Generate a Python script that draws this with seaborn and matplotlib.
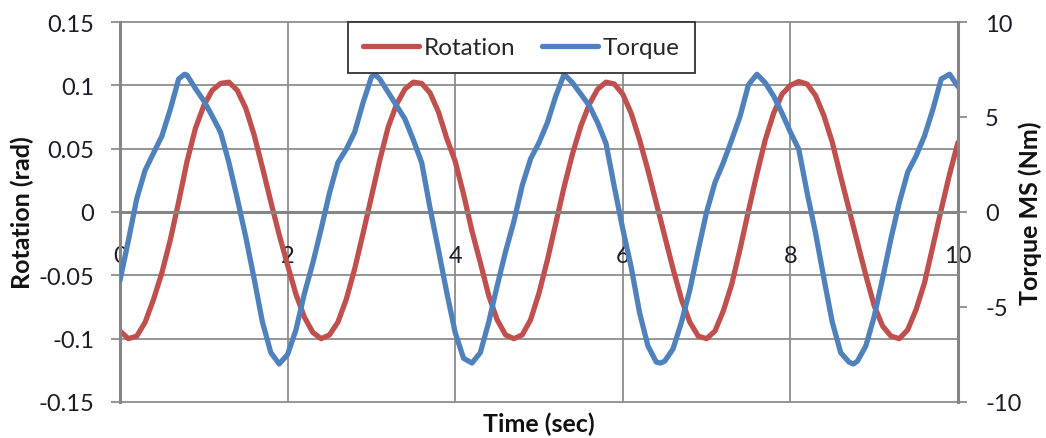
import numpy as np
import pandas as pd
import matplotlib
matplotlib.use("Agg")
import matplotlib.pyplot as plt
import seaborn as sns

# Measured response: shaft rotation (rad) and torque (Nm) over 10 s
rotation_time = [round(0.1 * i, 1) for i in range(101)]
rotation_rad = [
    -0.094, -0.100, -0.098, -0.087, -0.069, -0.048, -0.022, 0.008, 0.040, 0.066,
    0.084, 0.096, 0.1015, 0.1025, 0.096, 0.082, 0.061, 0.035, 0.008, -0.018,
    -0.042, -0.065, -0.083, -0.095, -0.100, -0.097, -0.087, -0.069, -0.045, -0.017,
    0.012, 0.041, 0.067, 0.085, 0.097, 0.1025, 0.1015, 0.094, 0.079, 0.058,
    0.040, 0.014, -0.015, -0.040, -0.066, -0.085, -0.097, -0.100, -0.097, -0.085,
    -0.064, -0.038, -0.009, 0.020, 0.046, 0.068, 0.085, 0.097, 0.1025, 0.101,
    0.093, 0.078, 0.057, 0.033, 0.007, -0.019, -0.045, -0.069, -0.087, -0.098,
    -0.100, -0.094, -0.078, -0.057, -0.029, 0.001, 0.030, 0.057, 0.078, 0.093,
    0.100, 0.103, 0.101, 0.092, 0.076, 0.055, 0.028, 0.002, -0.024, -0.050,
    -0.074, -0.090, -0.098, -0.100, -0.093, -0.077, -0.056, -0.027, 0.002, 0.030,
    0.055,
]

torque_time = [
    0.0, 0.1, 0.2, 0.3, 0.4, 0.5, 0.6, 0.7, 0.77, 0.8, 0.9,
    1.0, 1.1, 1.2, 1.3, 1.4, 1.5, 1.6, 1.7, 1.8, 1.9,
    2.0, 2.1, 2.2, 2.3, 2.4, 2.5, 2.6, 2.7, 2.8, 2.9,
    3.0, 3.04, 3.1, 3.2, 3.3, 3.4, 3.5, 3.6, 3.7, 3.8, 3.9,
    4.0, 4.1, 4.2, 4.3, 4.4, 4.5, 4.6, 4.7, 4.8, 4.9,
    5.0, 5.1, 5.2, 5.3, 5.4, 5.5, 5.6, 5.7, 5.8, 5.9,
    6.0, 6.1, 6.2, 6.3, 6.4, 6.45, 6.5, 6.6, 6.7, 6.8, 6.9,
    7.0, 7.1, 7.2, 7.3, 7.4, 7.5, 7.6, 7.7, 7.8, 7.9,
    8.0, 8.1, 8.2, 8.3, 8.4, 8.5, 8.6, 8.7, 8.75, 8.8, 8.9,
    9.0, 9.1, 9.2, 9.3, 9.4, 9.5, 9.6, 9.7, 9.8, 9.9, 10.0,
]
torque_nm = [
    -3.6, -1.5, 0.7, 2.2, 3.1, 4.0, 5.4, 7.0, 7.25, 7.2, 6.5,
    5.85, 5.05, 4.2, 2.6, 0.7, -1.3, -3.5, -5.8, -7.4, -8.0,
    -7.5, -6.2, -4.3, -2.7, -0.9, 1.0, 2.6, 3.3, 4.2, 5.75,
    7.1, 7.25, 7.0, 6.3, 5.6, 4.9, 3.8, 2.6, 0.2, -2.0, -4.25,
    -6.35, -7.7, -7.95, -7.4, -5.8, -3.9, -2.1, -0.5, 1.4, 2.8,
    3.65, 4.7, 6.1, 7.25, 6.8, 6.2, 5.6, 4.7, 3.6, 1.3,
    -0.9, -2.9, -5.3, -7.05, -7.9, -7.95, -7.85, -7.2, -5.8, -4.1, -2.0,
    0.0, 1.55, 2.6, 3.8, 5.05, 6.7, 7.25, 6.8, 6.1, 5.2,
    4.2, 3.3, 1.0, -1.1, -3.5, -5.8, -7.4, -7.9, -8.0, -7.85, -7.05,
    -5.5, -3.5, -1.4, 0.5, 2.1, 2.95, 4.0, 5.4, 7.0, 7.25, 6.6,
]

x_ticks = [0, 2, 4, 6, 8, 10]
x_tick_labels = ["0", "2", "4", "6", "8", "10"]
rot_ticks = [-0.15, -0.1, -0.05, 0, 0.05, 0.1, 0.15]
rot_tick_labels = ["-0.15", "-0.1", "-0.05", "0", "0.05", "0.1", "0.15"]
torque_ticks = [-10, -5, 0, 5, 10]
torque_tick_labels = ["-10", "-5", "0", "5", "10"]

RED = "#C0504D"
BLUE = "#4F81BD"
GRID = "#8C8C8C"
AXIS = "#858585"
TEXT = "#1c1c28"

sns.set_style("white")
plt.rcParams["font.family"] = ["Lato", "DejaVu Sans"]
plt.rcParams["font.size"] = 17

rot_df = pd.DataFrame({"t": rotation_time, "rot": rotation_rad})
tq_df = pd.DataFrame({"t": torque_time, "tq": torque_nm})

fig = plt.figure(figsize=(10.46, 4.39), dpi=100)
ax = fig.add_axes([120 / 1046, 1 - 403 / 439, 838 / 1046, 380 / 439])
ax2 = ax.twinx()

sns.lineplot(data=rot_df, x="t", y="rot", ax=ax, color=RED, lw=3.8,
             label="Rotation", sort=True)
sns.lineplot(data=tq_df, x="t", y="tq", ax=ax2, color=BLUE, lw=3.8,
             label="Torque", sort=True)
for a in (ax, ax2):
    if a.get_legend() is not None:
        a.get_legend().remove()
    for ln in a.get_lines():
        ln.set_solid_joinstyle("round")
        ln.set_solid_capstyle("round")

ax.set_xlim(0, 10)
ax.set_ylim(-0.15, 0.15)
ax2.set_ylim(-10, 10)

ax.set_xticks(x_ticks)
ax.set_xticklabels(x_tick_labels)
ax.set_yticks(rot_ticks)
ax.set_yticklabels(rot_tick_labels)
ax2.set_yticks(torque_ticks)
ax2.set_yticklabels(torque_tick_labels)

ax.grid(True, color=GRID, lw=1.3)
for gl in ax.get_ygridlines() + ax.get_xgridlines():
    gl.set_clip_on(False)
ax.set_axisbelow(True)

# spines: x axis crosses at zero, value axes on both sides
ax.spines["bottom"].set_position(("data", 0))
ax.spines["bottom"].set_color(AXIS)
ax.spines["bottom"].set_linewidth(2.2)
ax.spines["top"].set_visible(False)
ax.spines["right"].set_visible(False)
ax.spines["left"].set_color(AXIS)
ax.spines["left"].set_linewidth(2.2)
for s in ("top", "bottom", "left"):
    ax2.spines[s].set_visible(False)
ax2.spines["right"].set_color(AXIS)
ax2.spines["right"].set_linewidth(2.2)

ax.tick_params(axis="y", direction="out", length=6.5, width=1.3, color=GRID,
               pad=12, labelsize=17, labelcolor=TEXT, left=True)
ax.tick_params(axis="x", length=0, pad=24, labelsize=17, labelcolor=TEXT)
ax2.tick_params(axis="y", direction="out", length=6.5, width=1.3, color=GRID,
                pad=13, labelsize=17, labelcolor=TEXT, right=True)

ax.set_xlabel("Time (sec)", fontsize=18, fontweight="bold", color="#111111")
ax.xaxis.set_label_coords(0.5, -0.026)
ax.xaxis.label.set_verticalalignment("top")
ax.set_ylabel("Rotation (rad)", fontsize=18, fontweight="bold", color="#111111")
ax.yaxis.set_label_coords(-0.116, 0.5)
ax.yaxis.label.set_verticalalignment("center")
ax2.set_ylabel("Torque MS (Nm)", fontsize=18, fontweight="bold", color="#111111")
ax2.yaxis.set_label_coords(1.086, 0.5)
ax2.yaxis.label.set_verticalalignment("center")

handles = ax.get_lines()[:1] + ax2.get_lines()[:1]
leg = ax2.legend(handles, ["Rotation", "Torque"], loc="upper center",
                 bbox_to_anchor=(0.479, 1.0), ncol=2, frameon=True,
                 fancybox=False, borderaxespad=0, fontsize=17.5,
                 handlelength=2.3, handletextpad=0.2, columnspacing=1.1,
                 borderpad=0.62)
leg.get_frame().set_edgecolor("#333333")
leg.get_frame().set_linewidth(1.3)
leg.get_frame().set_facecolor("white")
leg.get_frame().set_alpha(1)

fig.savefig("out.png", dpi=100)
